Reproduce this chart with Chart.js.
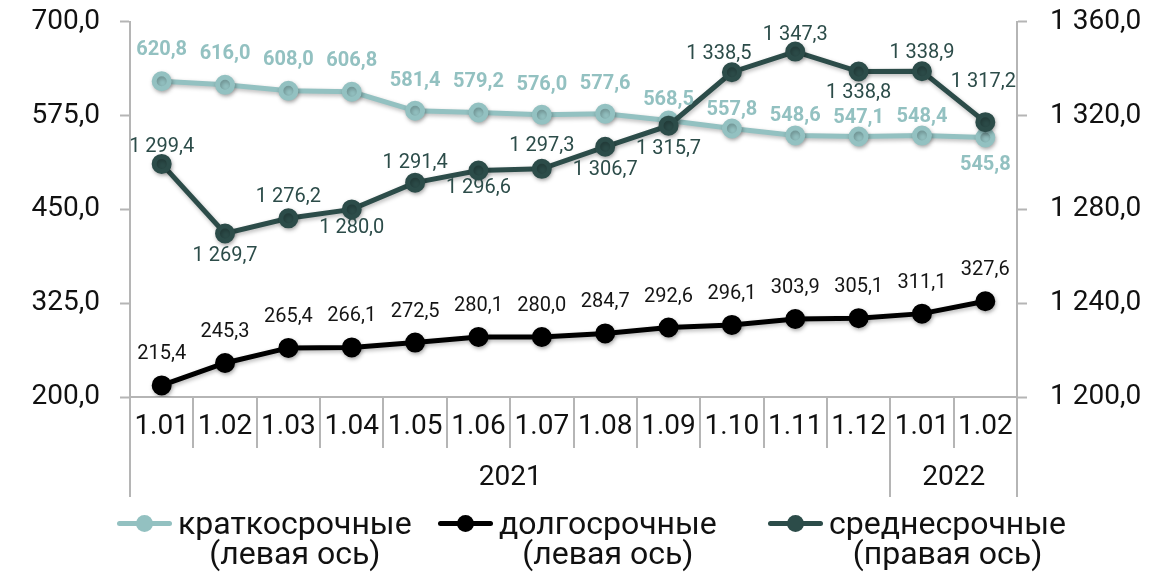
<!DOCTYPE html>
<html lang="ru">
<head>
<meta charset="utf-8">
<script src="https://cdn.jsdelivr.net/npm/chart.js@4.4.1/dist/chart.umd.min.js"></script>
<style>
  html, body { margin: 0; padding: 0; background: #fff; }
  #wrap { position: relative; width: 1173px; height: 572px; overflow: hidden; font-family: Roboto, "Noto Sans", sans-serif; }
  #chart { position: absolute; left: 0; top: -18px; }
  #legend { position: absolute; left: 0; top: 508px; width: 1173px; height: 64px; }
  .lg-item { position: absolute; top: 0; display: flex; align-items: flex-start; }
  .lg-mark { position: relative; width: 55px; height: 5px; margin-top: 13px; margin-right: 6px; border-radius: 3px; }
  .lg-mark span { position: absolute; left: 19px; top: -6px; width: 17px; height: 17px; border-radius: 50%; }
  .lg-text { font-size: 32px; line-height: 30px; color: #111; text-align: center; }
</style>
</head>
<body>
<div id="wrap">
  <canvas id="chart" width="1173" height="590"></canvas>
  <div id="legend"></div>
</div>
<script>
// данные
const months = ["1.01", "1.02", "1.03", "1.04", "1.05", "1.06", "1.07", "1.08", "1.09", "1.10", "1.11", "1.12", "1.01", "1.02"];
const years = ["2021", "2022"];
const yearSpans = [12, 2];
const shortTerm = [620.8, 616.0, 608.0, 606.8, 581.4, 579.2, 576.0, 577.6, 568.5, 557.8, 548.6, 547.1, 548.4, 545.8];
const longTerm = [215.4, 245.3, 265.4, 266.1, 272.5, 280.1, 280.0, 284.7, 292.6, 296.1, 303.9, 305.1, 311.1, 327.6];
const midTerm = [1299.4, 1269.7, 1276.2, 1280.0, 1291.4, 1296.6, 1297.3, 1306.7, 1315.7, 1338.5, 1347.3, 1338.8, 1338.9, 1317.2];
const leftTicks = [200, 325, 450, 575, 700];
const rightTicks = [1200, 1240, 1280, 1320, 1360];

// цвета
const cShort = "#93c1c1";
const cLong = "#000000";
const cMid = "#2c4c49";
const cAxis = "#b5b5b5";

// смещения подписей (dx, dy)
const shortOffs = [-31, -31, -31, -31, -30, -30, -30, -30, -20, -19, -19, -19, -19, 27].map(dy => [0, dy]);
const longOffs = longTerm.map(() => [0, -31]);
const midOffs = [[0, -17], [0, 22], [0, -21], [0, 19], [0, -20], [0, 18], [0, -23], [0, 23], [0, 23], [-13, -18], [0, -17], [0, 21], [0, -18], [-2, -40]];

function fmt(v) {
  const s = Number(v).toFixed(1).replace(".", ",");
  const [i, d] = s.split(",");
  return i.replace(/\B(?=(\d{3})+(?!\d))/g, " ") + "," + d;
}

const shadowPlugin = {
  id: "shadow",
  beforeDatasetDraw(chart) {
    const ctx = chart.ctx;
    ctx.save();
    ctx.shadowColor = "rgba(0,0,0,0.28)";
    ctx.shadowBlur = 4;
    ctx.shadowOffsetX = 1;
    ctx.shadowOffsetY = 2;
  },
  afterDatasetDraw(chart) { chart.ctx.restore(); }
};

const labelsPlugin = {
  id: "pointLabels",
  afterDatasetsDraw(chart) {
    const ctx = chart.ctx;
    chart.data.datasets.forEach((ds, di) => {
      const meta = chart.getDatasetMeta(di);
      ctx.save();
      ctx.font = (ds.lblBold ? "bold " : "") + "20px Roboto, 'Noto Sans', sans-serif";
      ctx.fillStyle = ds.lblColor;
      ctx.textAlign = "center";
      ctx.textBaseline = "middle";
      meta.data.forEach((pt, i) => {
        const o = ds.lblOffs[i];
        ctx.fillText(fmt(ds.data[i]), pt.x + o[0], pt.y + o[1]);
      });
      ctx.restore();
    });
  }
};

const groupsPlugin = {
  id: "groups",
  afterDraw(chart) {
    const ctx = chart.ctx;
    const x = chart.scales.x;
    const n = months.length;
    const w = (x.right - x.left) / n;
    const bottom = chart.chartArea.bottom;
    const bounds = [0];
    yearSpans.forEach(s => bounds.push(bounds[bounds.length - 1] + s));
    ctx.save();
    ctx.strokeStyle = cAxis;
    ctx.lineWidth = 2;
    for (let i = 0; i <= n; i++) {
      const px = Math.round(x.left + i * w);
      const long = bounds.includes(i);
      ctx.beginPath();
      ctx.moveTo(px, bottom);
      ctx.lineTo(px, bottom + (long ? 100 : 51));
      ctx.stroke();
    }
    ctx.fillStyle = "#111";
    ctx.font = "28px Roboto, 'Noto Sans', sans-serif";
    ctx.textAlign = "center";
    ctx.textBaseline = "middle";
    years.forEach((y, k) => {
      const cx = x.left + (bounds[k] + bounds[k + 1]) / 2 * w;
      ctx.fillText(y, cx, bottom + 81);
    });
    ctx.restore();
  }
};

const tickFont = { family: "Roboto, 'Noto Sans', sans-serif", size: 28 };

new Chart(document.getElementById("chart"), {
  type: "line",
  data: {
    labels: months,
    datasets: [
      { label: "краткосрочные", data: shortTerm, yAxisID: "yL", borderColor: cShort, backgroundColor: cShort,
        borderWidth: 5, pointRadius: 7.5, order: 1, lblColor: cShort, lblBold: true, lblOffs: shortOffs },
      { label: "долгосрочные", data: longTerm, yAxisID: "yL", borderColor: cLong, backgroundColor: cLong,
        borderWidth: 5, pointRadius: 7.5, order: 2, lblColor: "#151515", lblBold: false, lblOffs: longOffs },
      { label: "среднесрочные", data: midTerm, yAxisID: "yR", borderColor: cMid, backgroundColor: cMid,
        borderWidth: 5, pointRadius: 7.5, order: 0, lblColor: cMid, lblBold: false, lblOffs: midOffs }
    ]
  },
  options: {
    responsive: false,
    animation: false,
    layout: { padding: 0 },
    plugins: { legend: { display: false }, tooltip: { enabled: false } },
    elements: { line: { tension: 0 }, point: { borderWidth: 0 } },
    scales: {
      x: {
        offset: true,
        grid: { display: false, drawTicks: false, offset: true },
        border: { display: true, color: cAxis, width: 2 },
        ticks: { color: "#111", font: tickFont, padding: 13, maxRotation: 0, autoSkip: false },
        afterFit(s) { s.height = 175; }
      },
      yL: {
        position: "left", min: 200, max: 700,
        afterBuildTicks(s) { s.ticks = leftTicks.map(v => ({ value: v })); },
        grid: { drawOnChartArea: false, drawTicks: true, tickLength: 10, color: cAxis, tickColor: cAxis, tickWidth: 2 },
        border: { color: cAxis, width: 2 },
        ticks: { color: "#111", font: tickFont, padding: 20, callback: v => fmt(v) },
        afterFit(s) { s.width = 130; }
      },
      yR: {
        position: "right", min: 1200, max: 1360,
        afterBuildTicks(s) { s.ticks = rightTicks.map(v => ({ value: v })); },
        grid: { drawOnChartArea: false, drawTicks: true, tickLength: 10, color: cAxis, tickColor: cAxis, tickWidth: 2 },
        border: { color: cAxis, width: 2 },
        ticks: { color: "#111", font: tickFont, padding: 23, callback: v => fmt(v) },
        afterFit(s) { s.width = 156; }
      }
    }
  },
  plugins: [shadowPlugin, labelsPlugin, groupsPlugin]
});

// легенда
const legendItems = [
  { color: cShort, l1: "краткосрочные", l2: "(левая ось)", left: 117 },
  { color: cLong, l1: "долгосрочные", l2: "(левая ось)", left: 438 },
  { color: cMid, l1: "среднесрочные", l2: "(правая ось)", left: 768 }
];
const lg = document.getElementById("legend");
legendItems.forEach(it => {
  const d = document.createElement("div");
  d.className = "lg-item";
  d.style.left = it.left + "px";
  d.innerHTML = `<div class="lg-mark" style="background:${it.color}"><span style="background:${it.color}"></span></div>
    <div class="lg-text">${it.l1}<br>${it.l2}</div>`;
  lg.appendChild(d);
});
</script>
</body>
</html>
